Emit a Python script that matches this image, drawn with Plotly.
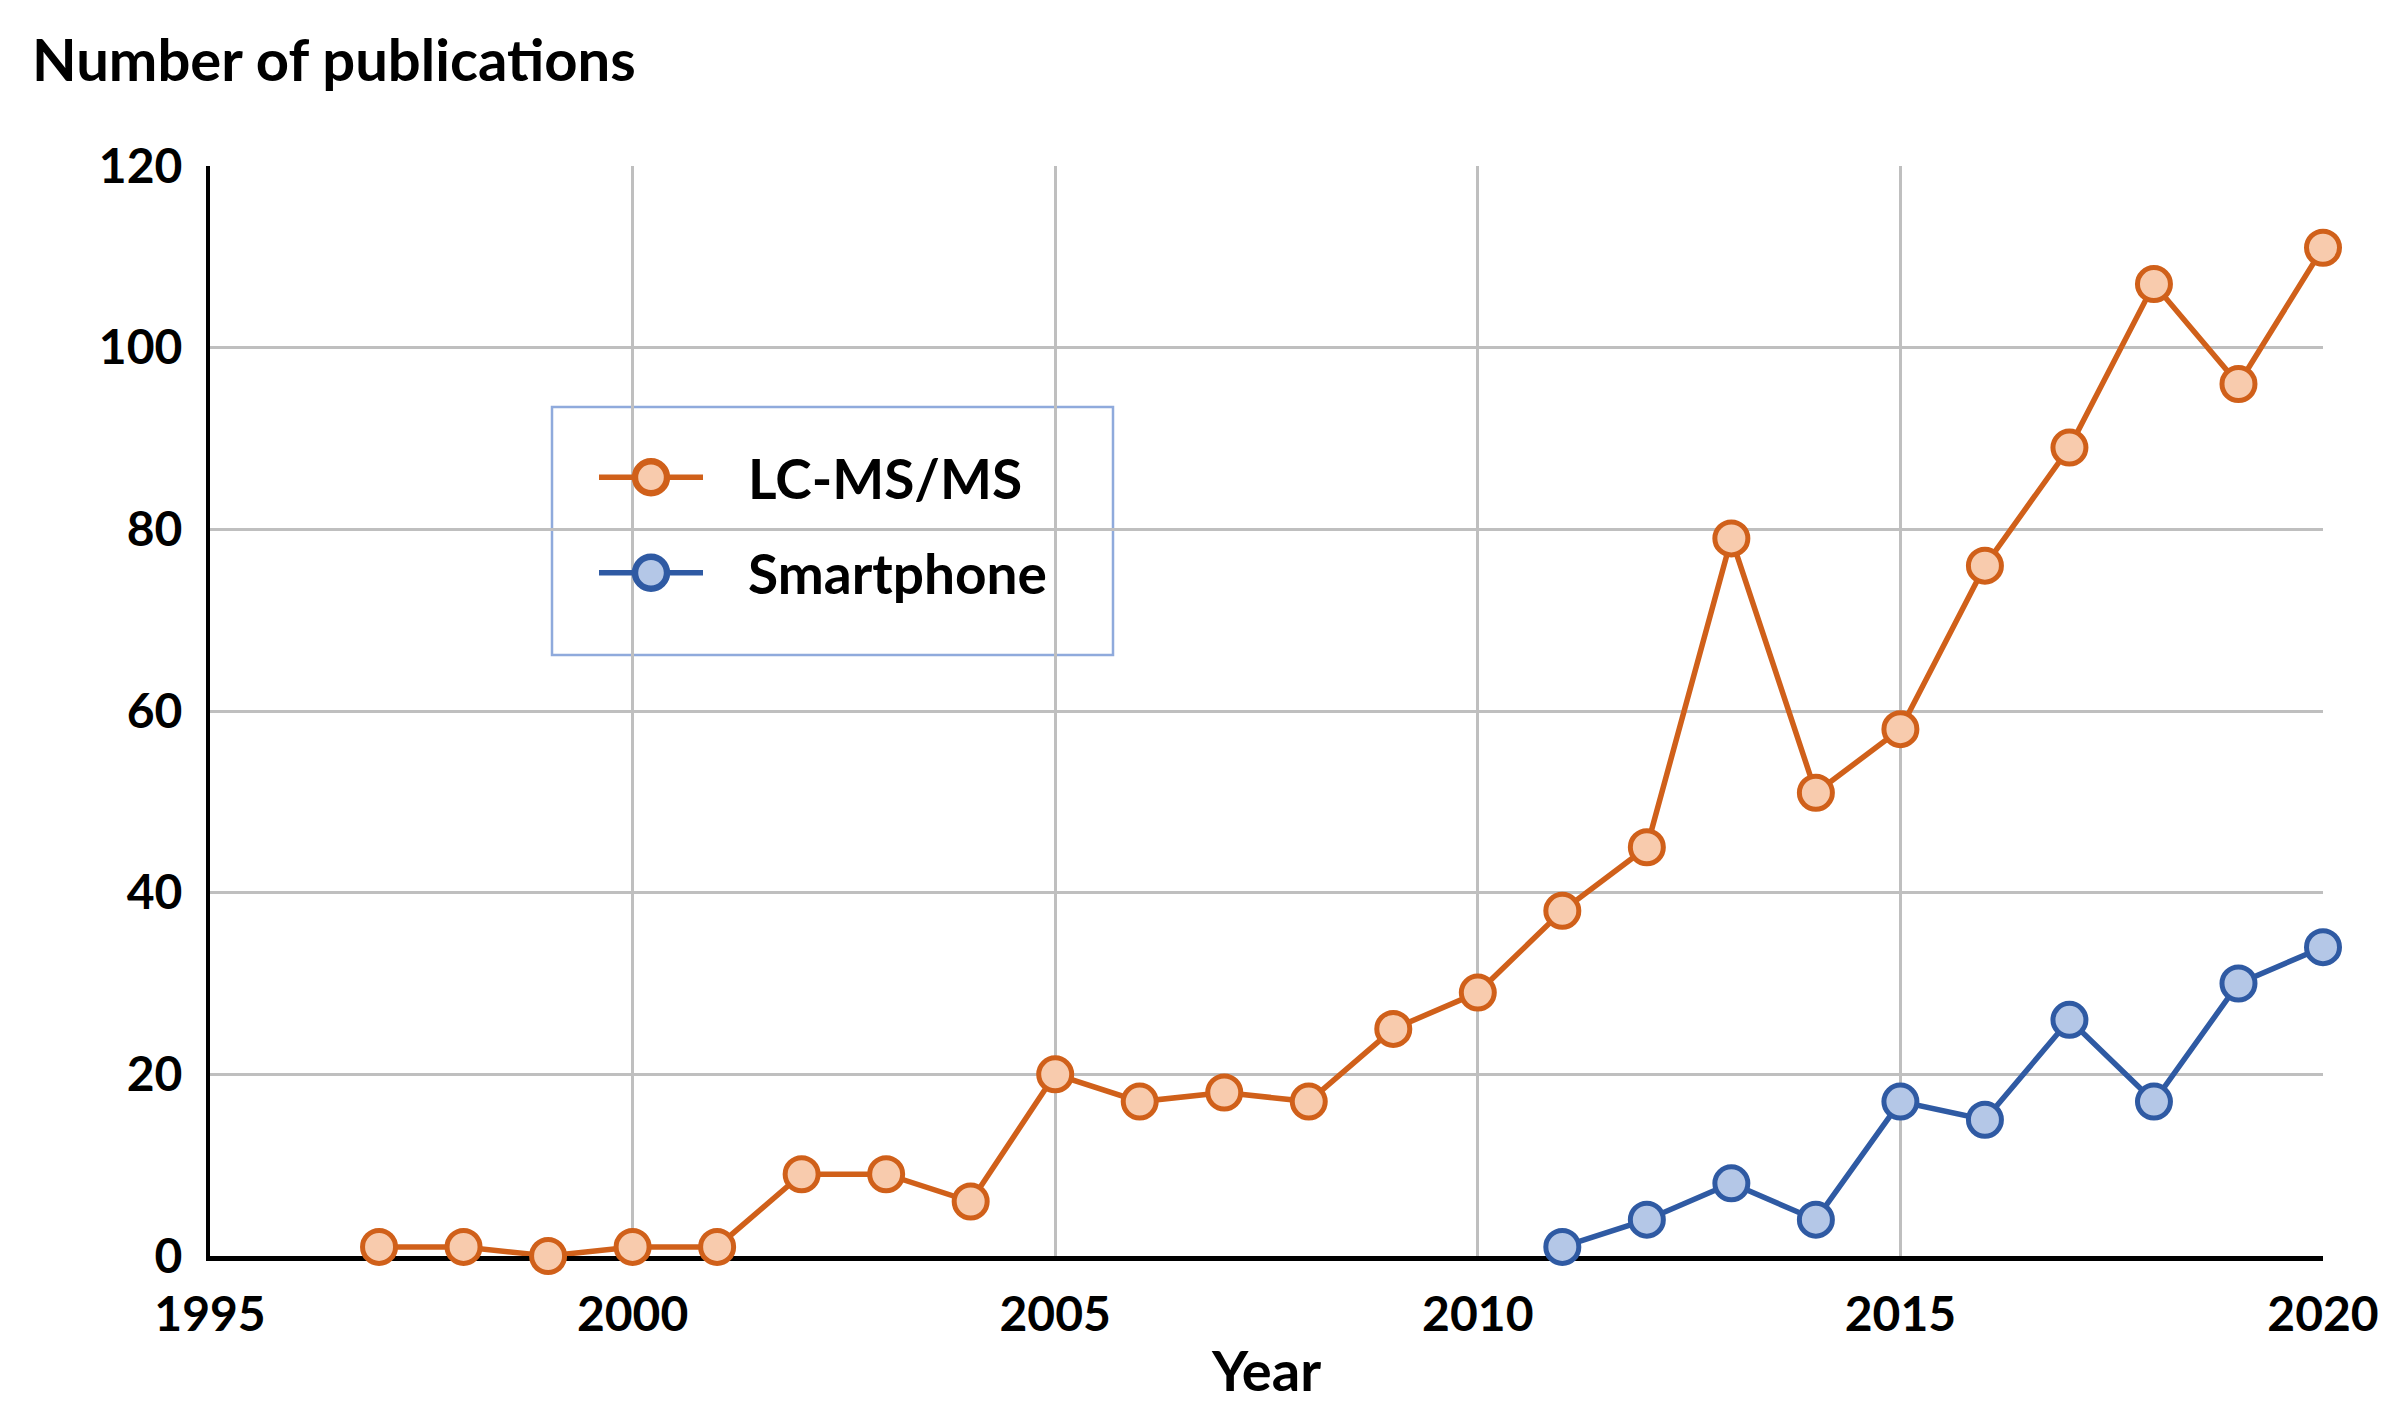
import plotly.graph_objects as go

years_lc = list(range(1997, 2021))
lcms = [1, 1, 0, 1, 1, 9, 9, 6, 20, 17, 18, 17, 25, 29, 38, 45, 79, 51, 58, 76, 89, 107, 96, 111]

years_sp = list(range(2011, 2021))
smartphone = [1, 4, 8, 4, 17, 15, 26, 17, 30, 34]

x_ticks = [1995, 2000, 2005, 2010, 2015, 2020]
y_ticks = [0, 20, 40, 60, 80, 100, 120]

FONT = "Lato"
W, H = 2396, 1418
L, R, T, B = 202, 81, 158, 170
PW, PH = W - L - R, H - T - B


def px_x(v):
    return (v - L) / PW


def px_y(v):
    return (H - B - v) / PH


fig = go.Figure()
fig.add_trace(go.Scatter(
    x=years_lc, y=lcms, name="\u00a0\u00a0\u00a0LC-MS/MS", mode="lines+markers",
    legendgroup="a",
    line=dict(color="#D0601A", width=5.5),
    marker=dict(size=33, color="#F8CBAD", line=dict(color="#D0601A", width=5)),
    cliponaxis=False,
))
fig.add_trace(go.Scatter(
    x=years_sp, y=smartphone, name="\u00a0\u00a0\u00a0Smartphone", mode="lines+markers",
    legendgroup="b",
    line=dict(color="#2F5AA3", width=5.5),
    marker=dict(size=33, color="#B4C7E7", line=dict(color="#2F5AA3", width=5)),
    cliponaxis=False,
))

# legend frame
fig.add_shape(type="rect", xref="paper", yref="paper",
              x0=px_x(544), x1=px_x(1105), y0=px_y(647), y1=px_y(399),
              line=dict(color="#8FAADC", width=2.5), fillcolor="white", layer="below")

fig.update_layout(
    width=W, height=H,
    margin=dict(l=L, r=R, t=T, b=B, autoexpand=False),
    paper_bgcolor="white", plot_bgcolor="white",
    font=dict(family=FONT, color="black", size=48),
    showlegend=True,
    legend=dict(
        x=px_x(586), y=px_y(427), xanchor="left", yanchor="top",
        borderwidth=0, bgcolor="rgba(0,0,0,0)",
        font=dict(family=FONT, size=55, color="black", weight="bold"),
        tracegroupgap=21, itemwidth=104,
    ),
    xaxis=dict(
        range=[1995, 2020], tickvals=x_ticks, ticktext=[str(v) for v in x_ticks],
        showgrid=True, gridcolor="#BFBFBF", gridwidth=3,
        showline=True, linecolor="black", linewidth=5,
        zeroline=False, ticks="outside", ticklen=12, tickcolor="rgba(0,0,0,0)",
        tickfont=dict(family=FONT, size=48, color="black", weight="bold"),
        title=dict(text="Year", font=dict(family=FONT, size=56, color="black", weight="bold"), standoff=14),
        layer="below traces",
    ),
    yaxis=dict(
        range=[0, 120], tickvals=y_ticks,
        showgrid=True, gridcolor="#BFBFBF", gridwidth=3,
        showline=True, linecolor="black", linewidth=4,
        zeroline=False, ticks="outside", ticklen=14, tickcolor="rgba(0,0,0,0)",
        tickfont=dict(family=FONT, size=48, color="black", weight="bold"),
        layer="below traces",
    ),
)

fig.add_annotation(
    text="Number of publications", xref="paper", yref="paper",
    x=px_x(22), y=px_y(50),
    xanchor="left", yanchor="middle", showarrow=False,
    font=dict(family=FONT, size=58, color="black", weight="bold"),
)

post = """
var gd = document.getElementById('{plot_id}');
function enlargeLegendMarkers(){
  gd.querySelectorAll('.legend .legendpoints path.scatterpts').forEach(function(p){
    var t = p.getAttribute('transform') || '';
    if (t.indexOf('scale') < 0) { p.setAttribute('transform', t + ' scale(2)'); }
    p.style.strokeWidth = '3.2px';
  });
}
enlargeLegendMarkers();
if (gd.on) { gd.on('plotly_afterplot', enlargeLegendMarkers); }
"""

fig.write_html("out.html", post_script=post)
